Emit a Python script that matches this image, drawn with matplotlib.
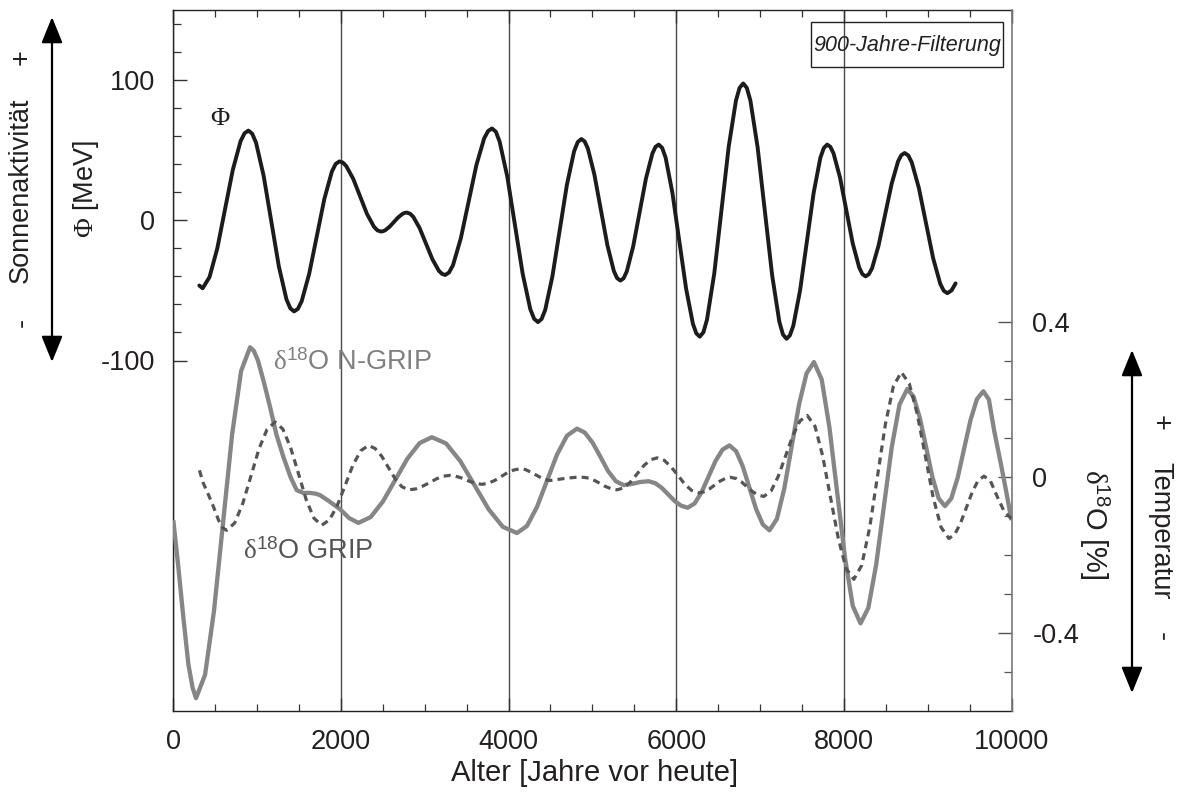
import matplotlib
matplotlib.use('Agg')
import matplotlib.pyplot as plt
from matplotlib.ticker import FixedLocator
from matplotlib.patches import FancyArrowPatch, Rectangle

plt.rcParams['font.family'] = ['Liberation Sans', 'DejaVu Sans']
plt.rcParams['mathtext.fontset'] = 'custom'
plt.rcParams['mathtext.rm'] = 'Liberation Serif'
plt.rcParams['mathtext.sf'] = 'Liberation Sans'
plt.rcParams['mathtext.it'] = 'Liberation Serif:italic'
plt.rcParams['axes.unicode_minus'] = False

# ---------------- data ----------------
phi_years = [310, 350, 432, 525, 618, 710, 803, 850, 896, 941, 987, 1078, 1169, 1259,
             1350, 1396, 1441, 1486, 1531, 1621, 1712, 1802, 1892, 1937, 1982, 2023,
             2064, 2147, 2229, 2311, 2394, 2435, 2476, 2502, 2528, 2580, 2632, 2683,
             2735, 2761, 2787, 2825, 2863, 2939, 3016, 3092, 3168, 3206, 3244, 3290,
             3337, 3430, 3523, 3616, 3709, 3756, 3802, 3848, 3893, 3985, 4076, 4168,
             4259, 4305, 4351, 4394, 4437, 4523, 4610, 4696, 4782, 4825, 4868, 4907,
             4946, 5023, 5101, 5179, 5256, 5295, 5334, 5372, 5410, 5486, 5563, 5639,
             5715, 5753, 5791, 5832, 5873, 5954, 6036, 6118, 6199, 6240, 6281, 6324,
             6367, 6454, 6540, 6626, 6713, 6756, 6799, 6842, 6885, 6971, 7058, 7144,
             7230, 7273, 7316, 7356, 7397, 7478, 7559, 7639, 7720, 7761, 7801, 7839,
             7877, 7954, 8030, 8106, 8183, 8221, 8259, 8298, 8337, 8414, 8492, 8570,
             8647, 8686, 8725, 8768, 8810, 8895, 8980, 9065, 9150, 9192, 9235, 9285,
             9333]
phi_values = [-46.5, -48.5, -40.5, -20, 8, 36, 56.5, 62.1, 64, 61.8, 55.4, 31.7, -0.5, -32.8,
              -56.4, -62.8, -65, -63.2, -57.8, -38.2, -11.5, 15.2, 34.8, 40.2, 42, 41.2,
              38.6, 29.5, 17, 4.5, -4.6, -7.2, -8, -7.8, -7.1, -4.6, -1.2, 2.1,
              4.6, 5.3, 5.5, 4.7, 2.5, -5.6, -16.8, -27.9, -36, -38.2, -39, -37.2,
              -32, -12.9, 13.2, 39.4, 58.5, 63.7, 65.5, 63.2, 56.2, 31, -3.5, -38.1,
              -63.4, -70.3, -72.6, -70.4, -63.9, -39.9, -7.3, 25.4, 49.3, 55.8, 58, 56.3,
              51.2, 32.8, 7.5, -17.8, -36.2, -41.3, -43, -41.4, -36.5, -18.8, 5.5, 29.8,
              47.5, 52.4, 54, 51.7, 44.8, 19.8, -14.5, -48.8, -73.8, -80.7, -83, -79.9,
              -70.9, -37.9, 7.3, 52.5, 85.5, 94.5, 97.6, 94.5, 85.4, 52.1, 6.6, -39,
              -72.3, -81.4, -84.5, -82.1, -75.2, -49.9, -15.2, 19.4, 44.7, 51.6, 54, 52.4,
              47.7, 30.5, 7, -16.5, -33.7, -38.4, -40, -38.5, -34.1, -18, 4, 26,
              42.1, 46.5, 48, 46.3, 41.3, 23, -2, -27, -45.3, -50.3, -52, -50,
              -45]

ngrip_years = [0, 60, 120, 180, 230, 271, 379, 486, 594, 701, 809, 916, 960, 1010, 1080,
               1155, 1230, 1314, 1400, 1473, 1550, 1633, 1700, 1752, 1850, 1990, 2100,
               2209, 2355, 2501, 2647, 2793, 2939, 3085, 3254, 3423, 3593, 3762, 3931,
               4100, 4219, 4339, 4458, 4577, 4697, 4816, 4909, 5002, 5095, 5187, 5280,
               5373, 5470, 5570, 5672, 5750, 5827, 5905, 5982, 6060, 6137, 6220, 6303,
               6386, 6469, 6552, 6635, 6715, 6794, 6874, 6954, 7033, 7113, 7201, 7290,
               7378, 7466, 7555, 7643, 7736, 7828, 7921, 8014, 8106, 8199, 8292, 8385,
               8478, 8571, 8664, 8757, 8832, 8907, 8982, 9056, 9131, 9206, 9282, 9359,
               9435, 9511, 9588, 9664, 9730, 9793, 9872, 9940, 10000]
ngrip_values = [-0.11, -0.23, -0.36, -0.48, -0.54, -0.567, -0.507, -0.342, -0.116, 0.109,
                0.273, 0.334, 0.325, 0.300, 0.245, 0.180, 0.110, 0.052, 0.000, -0.033,
                -0.040, -0.040, -0.042, -0.046, -0.060, -0.082, -0.105, -0.117, -0.102,
                -0.062, -0.007, 0.048, 0.088, 0.103, 0.087, 0.042, -0.020, -0.082,
                -0.127, -0.143, -0.125, -0.076, -0.009, 0.058, 0.107, 0.125, 0.115,
                0.089, 0.053, 0.016, -0.010, -0.020, -0.017, -0.012, -0.010, -0.015,
                -0.027, -0.044, -0.061, -0.073, -0.078, -0.067, -0.038, 0.002, 0.042,
                0.071, 0.082, 0.067, 0.028, -0.027, -0.082, -0.121, -0.136, -0.107,
                -0.028, 0.080, 0.188, 0.267, 0.296, 0.251, 0.128, -0.040, -0.207,
                -0.330, -0.375, -0.335, -0.225, -0.074, 0.077, 0.187, 0.227, 0.207,
                0.152, 0.077, 0.001, -0.054, -0.074, -0.054, 0.000, 0.074, 0.147,
                0.201, 0.221, 0.200, 0.120, 0.036, -0.040, -0.110]

grip_years = [312, 358, 420, 478, 540, 590, 637, 733, 829, 926, 1022, 1118, 1214, 1307,
              1400, 1493, 1585, 1678, 1771, 1864, 1957, 2050, 2142, 2235, 2328, 2408,
              2487, 2567, 2647, 2726, 2806, 2889, 2972, 3055, 3138, 3221, 3304, 3367,
              3430, 3493, 3556, 3619, 3682, 3758, 3835, 3911, 3987, 4064, 4140, 4200,
              4259, 4319, 4379, 4438, 4498, 4600, 4700, 4800, 4900, 4980, 5060, 5140,
              5220, 5295, 5375, 5454, 5534, 5613, 5693, 5772, 5855, 5938, 6021, 6103,
              6186, 6269, 6332, 6395, 6458, 6521, 6584, 6647, 6714, 6780, 6847, 6913,
              6980, 7046, 7132, 7218, 7305, 7391, 7477, 7563, 7656, 7748, 7841, 7934,
              8026, 8119, 8213, 8308, 8402, 8496, 8591, 8685, 8780, 8875, 8970, 9064,
              9159, 9254, 9324, 9393, 9463, 9533, 9602, 9672, 9750, 9831, 9907, 9960,
              10000]
grip_values = [0.018, -0.015, -0.045, -0.075, -0.110, -0.130, -0.136, -0.117, -0.067,
               0.003, 0.073, 0.123, 0.142, 0.124, 0.076, 0.010, -0.057, -0.105, -0.123,
               -0.109, -0.072, -0.021, 0.031, 0.068, 0.082, 0.074, 0.054, 0.025, -0.004,
               -0.024, -0.032, -0.030, -0.023, -0.014, -0.004, 0.003, 0.005, 0.003,
               -0.001, -0.007, -0.012, -0.016, -0.018, -0.015, -0.008, 0.002, 0.012,
               0.019, 0.022, 0.020, 0.014, 0.007, 0.000, -0.006, -0.008, -0.005, -0.002,
               0.000, 0.000, -0.003, -0.012, -0.022, -0.029, -0.032, -0.027, -0.012,
               0.009, 0.030, 0.045, 0.050, 0.044, 0.027, 0.005, -0.018, -0.034, -0.040,
               -0.037, -0.030, -0.020, -0.010, -0.003, 0.000, -0.003, -0.012, -0.025,
               -0.037, -0.046, -0.049, -0.035, 0.003, 0.055, 0.107, 0.145, 0.159, 0.131,
               0.054, -0.052, -0.157, -0.234, -0.262, -0.226, -0.129, 0.004, 0.137,
               0.234, 0.270, 0.241, 0.163, 0.057, -0.050, -0.128, -0.157, -0.146,
               -0.117, -0.077, -0.037, -0.008, 0.003, -0.010, -0.050, -0.085, -0.098,
               -0.106]

x_major = [0, 2000, 4000, 6000, 8000, 10000]
x_major_labels = ['0', '2000', '4000', '6000', '8000', '10000']
x_minor = [500, 1000, 1500, 2500, 3000, 3500, 4500, 5000, 5500, 6500, 7000, 7500,
           8500, 9000, 9500]
phi_major = [-100, 0, 100]
phi_major_labels = ['-100', '0', '100']
phi_minor = [-80, -60, -40, -20, 20, 40, 60, 80, 120, 140]
d18_major = [-0.4, 0.0, 0.4]
d18_major_labels = ['-0.4', '0', '0.4']
d18_minor = [-0.5, -0.3, -0.2, -0.1, 0.1, 0.2, 0.3]

# ---------------- figure ----------------
W, H = 1178, 798
TXT = '#231f20'
fig = plt.figure(figsize=(W / 100, H / 100), dpi=100)
L, R, T, B = 173.3, 1011.5, 10, 711
ax = fig.add_axes([L / W, 1 - B / H, (R - L) / W, (B - T) / H])
ax2 = ax.twinx()


def fp(x, y):
    return (x / W, 1 - y / H)


ax.set_xlim(0, 10000)
ax.set_ylim(-350, 150)
ax2.set_ylim(-0.6, 1.2)

ax.grid(axis='x', which='major', color='#4a4a4a', lw=1.0, zorder=0)

ax.plot(phi_years, phi_values, color='#1c1c1c', lw=2.8,
        solid_joinstyle='round', solid_capstyle='round', zorder=3)
ax2.plot(ngrip_years, ngrip_values, color='#868686', lw=3.1,
         solid_joinstyle='round', solid_capstyle='butt', zorder=3)
ax2.plot(grip_years, grip_values, color='#555555', lw=2.3,
         linestyle=(0, (2.2, 1.6)), zorder=4)

# spines
for s in ['left', 'bottom', 'top']:
    ax.spines[s].set_linewidth(1.0)
    ax.spines[s].set_color('#222222')
ax.spines['right'].set_visible(False)
for s in ['left', 'bottom', 'top']:
    ax2.spines[s].set_visible(False)
ax2.spines['right'].set_color('#7a7a7a')
ax2.spines['right'].set_linewidth(1.2)

# ticks
ax.set_xticks(x_major)
ax.set_xticklabels(x_major_labels)
ax.xaxis.set_minor_locator(FixedLocator(x_minor))
ax.set_yticks(phi_major)
ax.set_yticklabels(phi_major_labels)
ax.yaxis.set_minor_locator(FixedLocator(phi_minor))
ax.tick_params(axis='x', which='both', direction='in', top=True, bottom=True,
               colors='#333333', labelcolor=TXT)
ax.tick_params(axis='x', which='major', length=9.5, width=1.0, pad=13, labelsize=19.5)
ax.tick_params(axis='x', which='minor', length=5, width=0.9)
ax.tick_params(axis='y', which='both', direction='in', left=True, right=False,
               colors='#333333', labelcolor=TXT)
ax.tick_params(axis='y', which='major', length=10, width=1.0, pad=13, labelsize=19.5)
ax.tick_params(axis='y', which='minor', length=6, width=0.9)

ax2.set_yticks(d18_major)
ax2.set_yticklabels(d18_major_labels)
ax2.yaxis.set_minor_locator(FixedLocator(d18_minor))
ax2.tick_params(axis='y', which='both', direction='in', right=True, left=False,
                colors='#555555', labelcolor=TXT)
ax2.tick_params(axis='y', which='major', length=10, width=1.0, pad=15, labelsize=19.5)
ax2.tick_params(axis='y', which='minor', length=6, width=0.9)

# in-plot labels
ax.text(560, 73, r'$\mathrm{\Phi}$', fontsize=19, color=TXT, ha='center', va='center')
ax2.text(1190, 0.295, r'$\mathrm{\delta}^{\mathsf{18}}$O N-GRIP', fontsize=19.5,
         color='#808080', ha='left', va='center')
ax2.text(832, -0.19, r'$\mathrm{\delta}^{\mathsf{18}}$O GRIP', fontsize=19.5,
         color='#555555', ha='left', va='center')
x0b, y0b, x1b, y1b = 811, 22, 1003, 67
fig.add_artist(Rectangle(fp(x0b, y1b), (x1b - x0b) / W, (y1b - y0b) / H,
                         transform=fig.transFigure, fill=False, ec='#222222', lw=1.0))
fig.text(*fp((x0b + x1b) / 2, (y0b + y1b) / 2 + 1), '900-Jahre-Filterung', fontsize=15.5,
         style='italic', color=TXT, ha='center', va='center')

# outside labels
fig.text(*fp(595, 773), 'Alter [Jahre vor heute]', fontsize=21, color=TXT,
         ha='center', va='center')
fig.text(*fp(86, 189), r'$\mathrm{\Phi}$ [MeV]', fontsize=19.5, color=TXT,
         rotation=90, ha='center', va='center')
fig.text(*fp(21, 190), 'Sonnenaktivität', fontsize=19.5, color=TXT,
         rotation=90, ha='center', va='center')
fig.text(*fp(22, 57), '+', fontsize=19.5, color=TXT, rotation=90, ha='center', va='center')
fig.text(*fp(22, 322), '-', fontsize=19.5, color=TXT, rotation=90, ha='center', va='center')
fig.text(*fp(1094, 524), r'$\mathrm{\delta}^{\mathsf{18}}$O [%]', fontsize=21, color=TXT,
         rotation=270, ha='center', va='center')
fig.text(*fp(1160, 531), 'Temperatur', fontsize=19.5, color=TXT,
         rotation=270, ha='center', va='center')
fig.text(*fp(1160, 423), '+', fontsize=19.5, color=TXT, rotation=270, ha='center', va='center')
fig.text(*fp(1162, 637), '-', fontsize=19.5, color=TXT, rotation=270, ha='center', va='center')

# double arrows
for (x, y0, y1) in [(52, 17, 362), (1132, 350, 693)]:
    arr = FancyArrowPatch(posA=fp(x, y0), posB=fp(x, y1), transform=fig.transFigure,
                          arrowstyle='<|-|>,head_length=16,head_width=6.5',
                          mutation_scale=1, lw=1.6, color='black',
                          shrinkA=0, shrinkB=0)
    fig.add_artist(arr)

fig.savefig('out.png', dpi=100)
